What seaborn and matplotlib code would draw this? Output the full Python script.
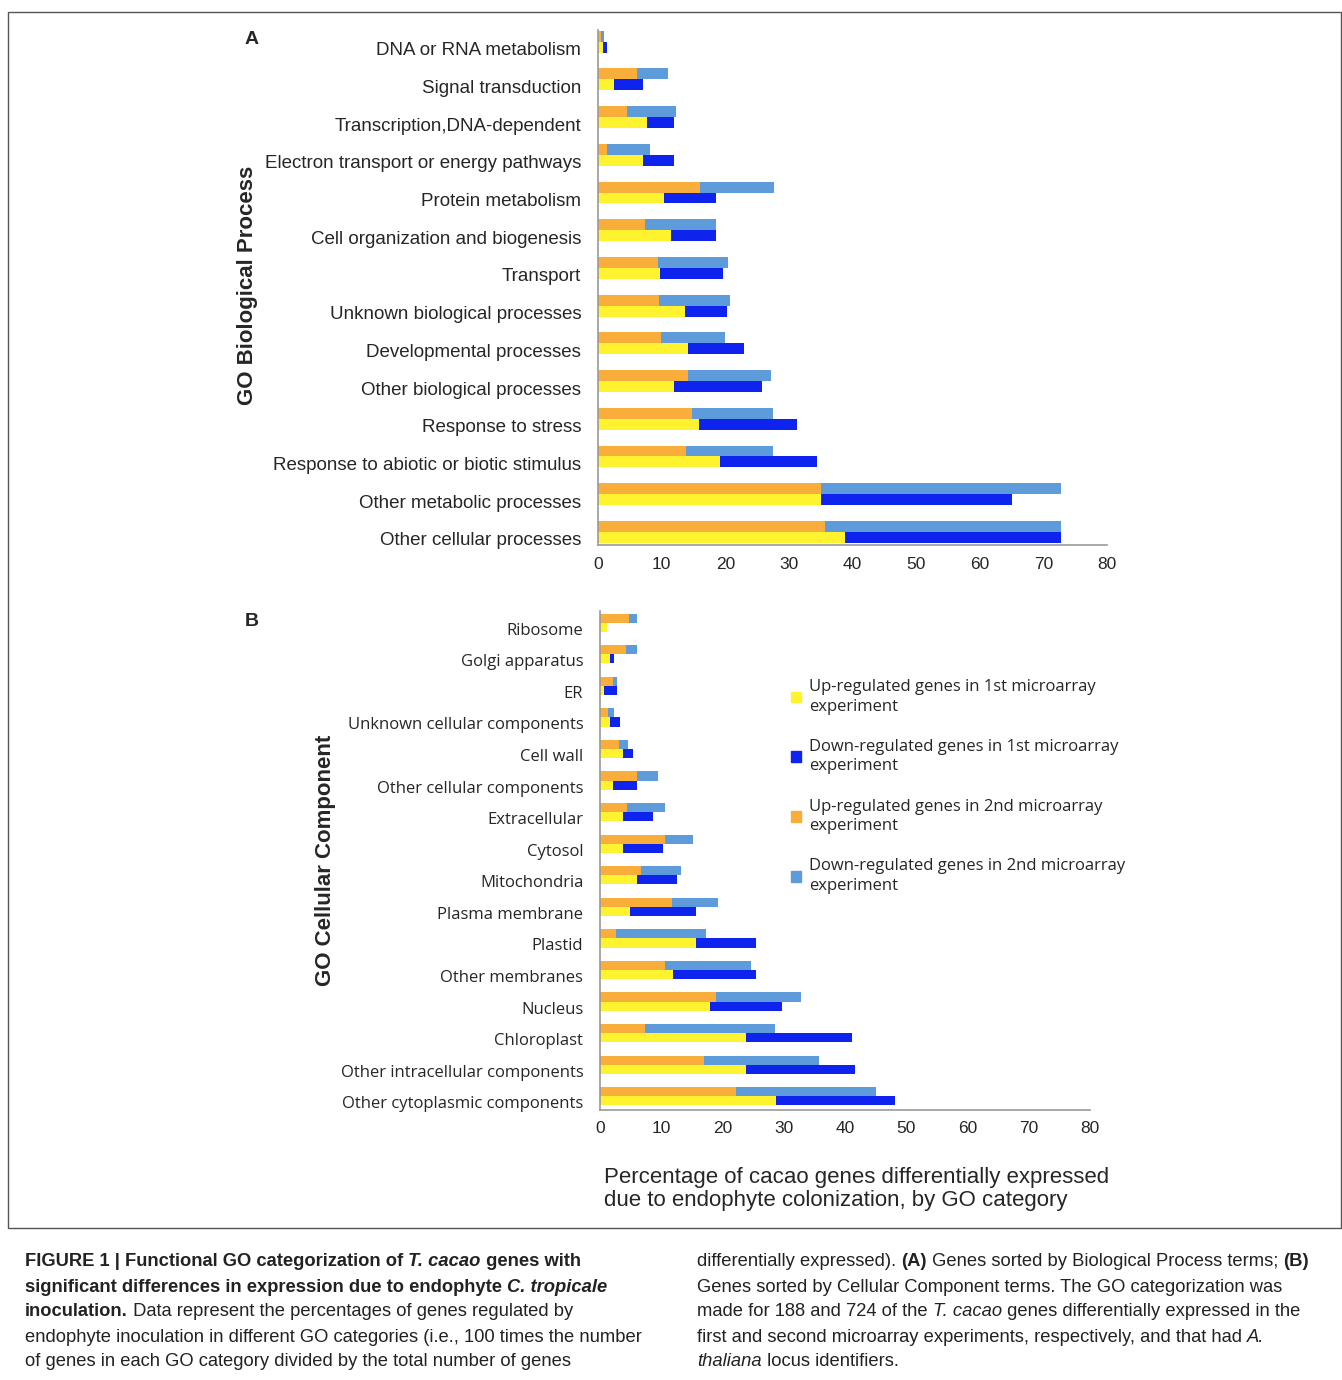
import pandas as pd
import matplotlib.pyplot as plt
import matplotlib.patches as mpatches
import matplotlib.transforms as mtransforms
import seaborn as sns

# Panel A - GO Biological Process (percent, top to bottom)
bp_cats = ["DNA or RNA metabolism", "Signal transduction", "Transcription,DNA-dependent",
           "Electron transport or energy pathways", "Protein metabolism",
           "Cell organization and biogenesis", "Transport", "Unknown biological processes",
           "Developmental processes", "Other biological processes", "Response to stress",
           "Response to abiotic or biotic stimulus", "Other metabolic processes",
           "Other cellular processes"]
bp_up1 = [0.8, 2.5, 7.7, 7.1, 10.4, 11.5, 9.7, 13.7, 14.1, 11.9, 15.9, 19.2, 35.1, 38.8]
bp_down1 = [0.6, 4.6, 4.2, 4.8, 8.2, 7.1, 10.0, 6.6, 8.9, 13.9, 15.4, 15.2, 30.0, 34.0]
bp_up2 = [0.5, 6.1, 4.6, 1.4, 16.0, 7.4, 9.4, 9.6, 9.9, 14.1, 14.8, 13.8, 35.1, 35.7]
bp_down2 = [0.5, 4.9, 7.7, 6.8, 11.7, 11.2, 11.0, 11.2, 10.1, 13.1, 12.7, 13.7, 37.7, 37.1]

# Panel B - GO Cellular Component
cc_cats = ["Ribosome", "Golgi apparatus", "ER", "Unknown cellular components", "Cell wall",
           "Other cellular components", "Extracellular", "Cytosol", "Mitochondria",
           "Plasma membrane", "Plastid", "Other membranes", "Nucleus", "Chloroplast",
           "Other intracellular components", "Other cytoplasmic components"]
cc_up1 = [1.1, 1.6, 0.7, 1.6, 3.8, 2.1, 3.8, 3.8, 6.0, 4.9, 15.7, 11.9, 18.0, 23.8, 23.8, 28.7]
cc_down1 = [0.0, 0.7, 2.1, 1.7, 1.6, 3.9, 4.9, 6.5, 6.6, 10.8, 9.8, 13.6, 11.7, 17.3, 17.8, 19.5]
cc_up2 = [4.7, 4.2, 2.1, 1.3, 3.1, 6.0, 4.4, 10.6, 6.7, 11.8, 2.6, 10.6, 18.9, 7.3, 17.0, 22.2]
cc_down2 = [1.3, 1.8, 0.7, 1.0, 1.5, 3.5, 6.2, 4.6, 6.5, 7.5, 14.7, 14.1, 13.9, 21.3, 18.8, 22.9]

C_UP1, C_DOWN1 = "#FFF22E", "#0F23EE"
C_UP2, C_DOWN2 = "#F9AE3C", "#5E9BDA"

sns.set_style("white")
plt.rcParams["font.family"] = ["Liberation Sans", "DejaVu Sans"]

fig = plt.figure(figsize=(13.42, 13.8), dpi=100)


def frame(cats, up1, down1, up2, down2):
    rows = []
    for i, c in enumerate(cats):
        rows.append((c, "2nd", up2[i], up2[i] + down2[i]))
        rows.append((c, "1st", up1[i], up1[i] + down1[i]))
    return pd.DataFrame(rows, columns=["cat", "exp", "up", "total"])


def panel(rect, df, cats, width, labfont, labsize, ylim, xmax, shift):
    ax = fig.add_axes(rect)
    sns.barplot(data=df, y="cat", x="total", hue="exp", hue_order=["2nd", "1st"],
                order=cats, palette=[C_DOWN2, C_DOWN1], width=width, dodge=True,
                orient="h", ax=ax, legend=False, saturation=1, linewidth=0)
    sns.barplot(data=df, y="cat", x="up", hue="exp", hue_order=["2nd", "1st"],
                order=cats, palette=[C_UP2, C_UP1], width=width, dodge=True,
                orient="h", ax=ax, legend=False, saturation=1, linewidth=0)
    ax.set_xlim(0, xmax)
    ax.set_ylim(*ylim)
    ax.set_xticks(range(0, 81, 10))
    ax.set_xlabel("")
    ax.set_ylabel("")
    for s in ["top", "right"]:
        ax.spines[s].set_visible(False)
    for s in ["left", "bottom"]:
        ax.spines[s].set_color("#999999")
        ax.spines[s].set_linewidth(1.2)
    ax.tick_params(axis="y", length=0, pad=12)
    ax.tick_params(axis="x", length=5, color="#999999", labelsize=12.5, direction="out")
    off = mtransforms.ScaledTranslation(0, -shift / 100, fig.dpi_scale_trans)
    for t in ax.get_yticklabels():
        t.set_fontfamily(labfont)
        t.set_fontsize(labsize)
        t.set_transform(t.get_transform() + off)
    for t in ax.get_xticklabels():
        t.set_fontfamily("Liberation Sans")
    return ax


axA = panel([0.4456, 0.605, 0.3793, 0.373], frame(bp_cats, bp_up1, bp_down1, bp_up2, bp_down2),
            bp_cats, 0.58, "Liberation Sans", 13.5, (13.35, -0.3), 80, 7)
axB = panel([0.4471, 0.196, 0.3651, 0.361], frame(cc_cats, cc_up1, cc_down1, cc_up2, cc_down2),
            cc_cats, 0.58, "Open Sans", 12, (15.42, -0.36), 80, 6)

fig.text(248 / 1342, 1 - 285 / 1380, "GO Biological Process", rotation=90, ha="center",
         va="center", fontsize=16, fontweight="bold")
fig.text(325 / 1342, 1 - 860 / 1380, "GO Cellular Component", rotation=90, ha="center",
         va="center", fontsize=16, fontweight="bold")
fig.text(252 / 1342, 1 - 40 / 1380, "A", ha="center", va="center", fontsize=14, fontweight="bold")
fig.text(252 / 1342, 1 - 622 / 1380, "B", ha="center", va="center", fontsize=14, fontweight="bold")
fig.text(604 / 1342, 1 - 1189 / 1380,
         "Percentage of cacao genes differentially expressed\ndue to endophyte colonization, by GO category",
         ha="left", va="center", fontsize=16, linespacing=1.15)

handles = [mpatches.Patch(color=c) for c in [C_UP1, C_DOWN1, C_UP2, C_DOWN2]]
labels = ["Up-regulated genes in 1st microarray\nexperiment",
          "Down-regulated genes in 1st microarray\nexperiment",
          "Up-regulated genes in 2nd microarray\nexperiment",
          "Down-regulated genes in 2nd microarray\nexperiment"]
leg = fig.legend(handles, labels, loc="upper left", bbox_to_anchor=(776 / 1342, 1 - 664 / 1380),
                 frameon=False, prop={"family": "Open Sans", "size": 12}, handlelength=0.6,
                 handleheight=0.6, handletextpad=0.5, labelspacing=1.45)
for t in leg.get_texts():
    t.set_linespacing(1.3)

# outer frame
fig.add_artist(mpatches.Rectangle((8 / 1342, 1 - 1228 / 1380), 1333 / 1342, 1216 / 1380,
                                  transform=fig.transFigure, fill=False, edgecolor="#555555",
                                  linewidth=1))

renderer = fig.canvas.get_renderer()


def runs(x, y, parts):
    x = x / 1342
    for text, weight, style in parts:
        t = fig.text(x, 1 - y / 1380, text, fontsize=13.2, fontweight=weight, fontstyle=style,
                     va="center", ha="left", color="#222222")
        x += t.get_window_extent(renderer).width / fig.bbox.width


N, B, I = "normal", "bold", "italic"
left = [
    [("FIGURE 1 | Functional GO categorization of ", B, N), ("T. cacao", B, I), (" genes with", B, N)],
    [("significant differences in expression due to endophyte ", B, N), ("C. tropicale", B, I)],
    [("inoculation.", B, N), (" Data represent the percentages of genes regulated by", N, N)],
    [("endophyte inoculation in different GO categories (i.e., 100 times the number", N, N)],
    [("of genes in each GO category divided by the total number of genes", N, N)],
]
right = [
    [("differentially expressed). ", N, N), ("(A)", B, N),
     (" Genes sorted by Biological Process terms; ", N, N), ("(B)", B, N)],
    [("Genes sorted by Cellular Component terms. The GO categorization was", N, N)],
    [("made for 188 and 724 of the ", N, N), ("T. cacao", N, I), (" genes differentially expressed in the", N, N)],
    [("first and second microarray experiments, respectively, and that had ", N, N), ("A.", N, I)],
    [("thaliana", N, I), (" locus identifiers.", N, N)],
]
for k, parts in enumerate(left):
    runs(25, 1262 + 25 * k, parts)
for k, parts in enumerate(right):
    runs(697, 1262 + 25 * k, parts)

fig.savefig("out.png", dpi=100)
